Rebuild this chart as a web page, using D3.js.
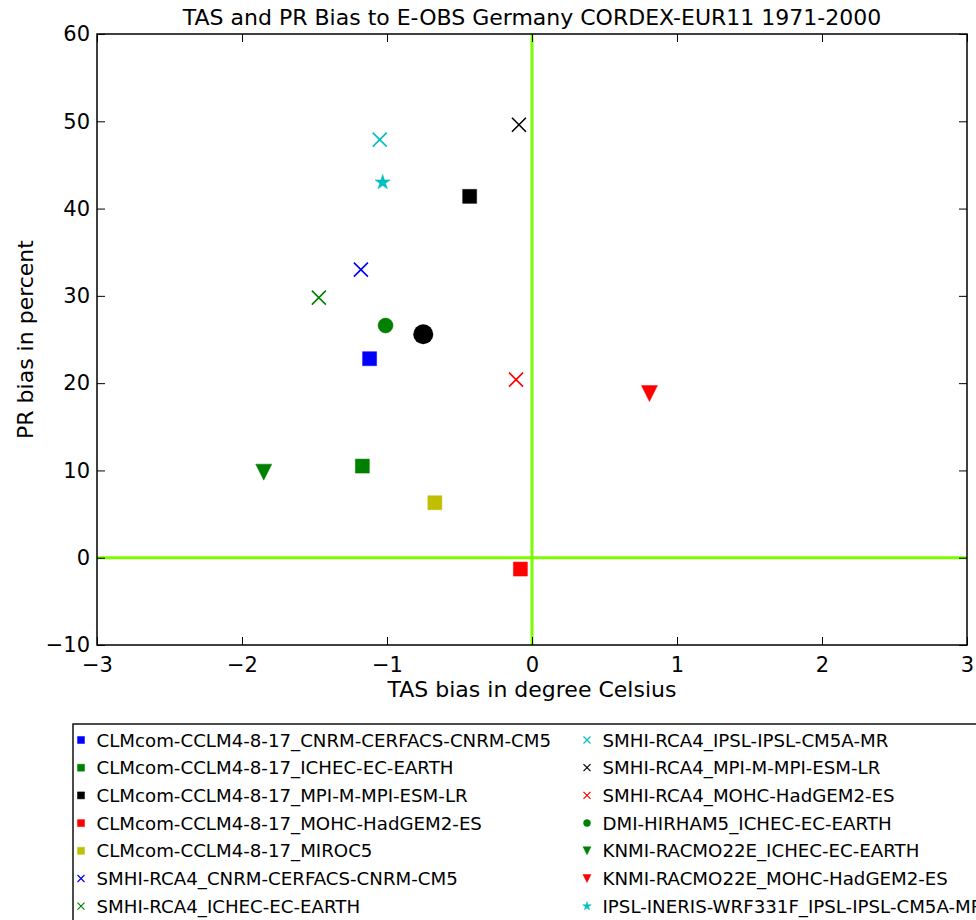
<!DOCTYPE html>
<html>
<head>
<meta charset="utf-8">
<script src="https://cdn.jsdelivr.net/npm/d3@7"></script>
<style>
  body { margin: 0; background: #fff; }
  svg { display: block; font-family: "DejaVu Sans", sans-serif; }
</style>
</head>
<body>
<script>
// model runs
var modelNames = [
  "CLMcom-CCLM4-8-17_CNRM-CERFACS-CNRM-CM5",
  "CLMcom-CCLM4-8-17_ICHEC-EC-EARTH",
  "CLMcom-CCLM4-8-17_MPI-M-MPI-ESM-LR",
  "CLMcom-CCLM4-8-17_MOHC-HadGEM2-ES",
  "CLMcom-CCLM4-8-17_MIROC5",
  "SMHI-RCA4_CNRM-CERFACS-CNRM-CM5",
  "SMHI-RCA4_ICHEC-EC-EARTH",
  "SMHI-RCA4_IPSL-IPSL-CM5A-MR",
  "SMHI-RCA4_MPI-M-MPI-ESM-LR",
  "SMHI-RCA4_MOHC-HadGEM2-ES",
  "DMI-HIRHAM5_ICHEC-EC-EARTH",
  "KNMI-RACMO22E_ICHEC-EC-EARTH",
  "KNMI-RACMO22E_MOHC-HadGEM2-ES",
  "IPSL-INERIS-WRF331F_IPSL-IPSL-CM5A-MR"
];
var tasBias = [-1.12, -1.17, -0.43, -0.08, -0.67, -1.18, -1.47, -1.05, -0.09, -0.11, -1.01, -1.85, 0.81, -1.03];
var prBias = [22.8, 10.5, 41.4, -1.3, 6.3, 33.0, 29.8, 47.9, 49.6, 20.4, 26.6, 9.8, 18.8, 43.0];

// ensemble mean (big black dot, not in legend)
var meanTas = [-0.75];
var meanPr = [25.6];

var xTicks = [-3, -2, -1, 0, 1, 2, 3];
var yTicks = [-10, 0, 10, 20, 30, 40, 50, 60];

// marker style per model (same order as modelNames)
var markerStyles = [
  { shape: "square", color: "#0000ff" },
  { shape: "square", color: "#008000" },
  { shape: "square", color: "#000000" },
  { shape: "square", color: "#ff0000" },
  { shape: "square", color: "#bfbf00" },
  { shape: "x", color: "#0000ff" },
  { shape: "x", color: "#008000" },
  { shape: "x", color: "#00bfbf" },
  { shape: "x", color: "#000000" },
  { shape: "x", color: "#ff0000" },
  { shape: "circle", color: "#008000" },
  { shape: "triangle", color: "#008000" },
  { shape: "triangle", color: "#ff0000" },
  { shape: "star", color: "#00bfbf" }
];

var width = 976;
var height = 920;
var plot = { left: 97, right: 967, top: 34, bottom: 645 };

var svg = d3
  .select("body")
  .append("svg")
  .attr("width", width)
  .attr("height", height);

var xScale = d3.scaleLinear().domain([-3, 3]).range([plot.left, plot.right]);
var yScale = d3.scaleLinear().domain([-10, 60]).range([plot.bottom, plot.top]);

// marker path centred on 0,0; s is the full width in px
function markerPath(shape, s) {
  var h = s / 2;
  if (shape === "square") {
    return "M" + -h + "," + -h + "H" + h + "V" + h + "H" + -h + "Z";
  }
  if (shape === "x") {
    return "M" + -h + "," + -h + "L" + h + "," + h + "M" + -h + "," + h + "L" + h + "," + -h;
  }
  if (shape === "circle") {
    return "M" + h + ",0A" + h + "," + h + " 0 1,1 " + -h + ",0A" + h + "," + h + " 0 1,1 " + h + ",0Z";
  }
  if (shape === "triangle") {
    return "M" + -h + "," + -h + "L" + h + "," + -h + "L0," + h + "Z";
  }
  // five point star
  var pts = [];
  for (var i = 0; i < 10; i++) {
    var r = i % 2 === 0 ? h : h * 0.382;
    var a = -Math.PI / 2 + (i * Math.PI) / 5;
    pts.push([r * Math.cos(a), r * Math.sin(a)]);
  }
  return "M" + pts.map(function (p) { return p[0].toFixed(2) + "," + p[1].toFixed(2); }).join("L") + "Z";
}

function styleMarker(sel, lineWidth) {
  sel
    .attr("fill", function (d) { return d.style.shape === "x" ? "none" : d.style.color; })
    .attr("stroke", function (d) { return d.style.color; })
    .attr("stroke-width", function (d) { return d.style.shape === "x" ? lineWidth : 0.5; });
}

var points = modelNames.map(function (name, i) {
  return { name: name, tas: tasBias[i], pr: prBias[i], style: markerStyles[i] };
});

var plotSize = { square: 14, x: 14, circle: 15, triangle: 16, star: 16 };

// zero lines
svg
  .append("line")
  .attr("x1", xScale(0)).attr("x2", xScale(0))
  .attr("y1", plot.top).attr("y2", plot.bottom)
  .attr("stroke", "#7cfc00")
  .attr("stroke-width", 3);
svg
  .append("line")
  .attr("x1", plot.left).attr("x2", plot.right)
  .attr("y1", yScale(0)).attr("y2", yScale(0))
  .attr("stroke", "#7cfc00")
  .attr("stroke-width", 3);

// ticks, all pointing inward on the four sides
var axisFont = 21;
var intFormat = d3.format("d");
svg
  .append("g")
  .attr("transform", "translate(0," + plot.bottom + ")")
  .call(d3.axisBottom(xScale).tickValues(xTicks).tickFormat(intFormat).tickSizeInner(-8).tickSizeOuter(0).tickPadding(12))
  .call(function (g) { g.select(".domain").remove(); });
svg
  .append("g")
  .attr("transform", "translate(0," + plot.top + ")")
  .call(d3.axisTop(xScale).tickValues(xTicks).tickSizeInner(-8).tickSizeOuter(0).tickFormat(""))
  .call(function (g) { g.select(".domain").remove(); });
svg
  .append("g")
  .attr("transform", "translate(" + plot.left + ",0)")
  .call(d3.axisLeft(yScale).tickValues(yTicks).tickFormat(intFormat).tickSizeInner(-8).tickSizeOuter(0).tickPadding(7))
  .call(function (g) { g.select(".domain").remove(); });
svg
  .append("g")
  .attr("transform", "translate(" + plot.right + ",0)")
  .call(d3.axisRight(yScale).tickValues(yTicks).tickSizeInner(-8).tickSizeOuter(0).tickFormat(""))
  .call(function (g) { g.select(".domain").remove(); });

svg.selectAll(".tick text")
  .attr("font-family", "DejaVu Sans")
  .attr("font-size", axisFont)
  .attr("fill", "#000");
svg.selectAll(".tick line").attr("stroke", "#000").attr("stroke-width", 1);

// frame
svg
  .append("rect")
  .attr("x", plot.left)
  .attr("y", plot.top)
  .attr("width", plot.right - plot.left)
  .attr("height", plot.bottom - plot.top)
  .attr("fill", "none")
  .attr("stroke", "#000")
  .attr("stroke-width", 1.5);

// model markers
svg
  .append("g")
  .selectAll("path")
  .data(points)
  .enter()
  .append("path")
  .attr("transform", function (d) {
    return "translate(" + xScale(d.tas) + "," + yScale(d.pr) + ")";
  })
  .attr("d", function (d) { return markerPath(d.style.shape, plotSize[d.style.shape]); })
  .call(styleMarker, 1.6);

// ensemble mean
svg
  .append("g")
  .selectAll("circle")
  .data(meanTas.map(function (t, i) { return { tas: t, pr: meanPr[i] }; }))
  .enter()
  .append("circle")
  .attr("cx", function (d) { return xScale(d.tas); })
  .attr("cy", function (d) { return yScale(d.pr); })
  .attr("r", 10)
  .attr("fill", "#000");

// title and axis labels
svg
  .append("text")
  .attr("x", (plot.left + plot.right) / 2)
  .attr("y", 25)
  .attr("text-anchor", "middle")
  .attr("font-size", 22)
  .text("TAS and PR Bias to E-OBS Germany CORDEX-EUR11 1971-2000");
svg
  .append("text")
  .attr("x", (plot.left + plot.right) / 2)
  .attr("y", 697)
  .attr("text-anchor", "middle")
  .attr("font-size", 22)
  .text("TAS bias in degree Celsius");
svg
  .append("text")
  .attr("transform", "translate(33," + (plot.top + plot.bottom) / 2 + ") rotate(-90)")
  .attr("text-anchor", "middle")
  .attr("font-size", 22)
  .text("PR bias in percent");

// legend, two columns of seven, runs past the page edge
var legend = svg.append("g").attr("class", "legend");
legend
  .append("rect")
  .attr("x", 73)
  .attr("y", 724)
  .attr("width", 1000)
  .attr("height", 300)
  .attr("fill", "#fff")
  .attr("stroke", "#111")
  .attr("stroke-width", 1.5);

var legendSize = { square: 7, x: 7, circle: 7, triangle: 8, star: 9 };
var rowsPerCol = 7;
var legendItems = legend
  .selectAll("g.item")
  .data(points)
  .enter()
  .append("g")
  .attr("class", "item")
  .attr("transform", function (d, i) {
    var col = Math.floor(i / rowsPerCol);
    var row = i % rowsPerCol;
    return "translate(" + (col === 0 ? 81 : 587) + "," + (740 + row * 27.7) + ")";
  });
legendItems
  .append("path")
  .attr("d", function (d) { return markerPath(d.style.shape, legendSize[d.style.shape]); })
  .call(styleMarker, 1.2);
legendItems
  .append("text")
  .attr("x", 15.5)
  .attr("y", 6.6)
  .attr("font-size", 18.2)
  .attr("fill", "#000")
  .text(function (d) { return d.name; });
</script>
</body>
</html>
